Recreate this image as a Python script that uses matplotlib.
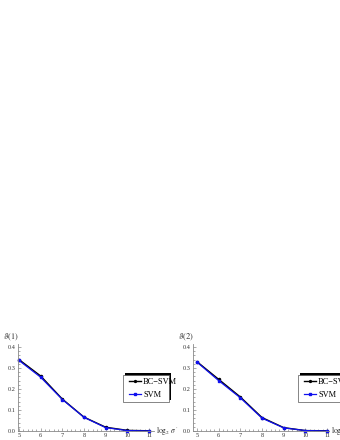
import numpy as np
import matplotlib.pyplot as plt
from matplotlib.patches import Rectangle

# data
log2_sigma = [5, 6, 7, 8, 9, 10, 11]

bc_svm_1 = [0.340, 0.262, 0.152, 0.066, 0.018, 0.003, 0.001]
svm_1 = [0.336, 0.256, 0.150, 0.065, 0.016, 0.002, 0.000]

bc_svm_2 = [0.330, 0.246, 0.162, 0.064, 0.016, 0.002, 0.001]
svm_2 = [0.328, 0.240, 0.158, 0.061, 0.015, 0.002, 0.000]

panels = [("$\\vartheta(1)$", bc_svm_1, svm_1), ("$\\vartheta(2)$", bc_svm_2, svm_2)]

plt.rcParams['font.family'] = ['Liberation Serif', 'DejaVu Serif']
plt.rcParams['mathtext.fontset'] = 'stix'

W, H = 340.0, 440.0
fig = plt.figure(figsize=(3.4, 4.4), dpi=100)

# pixel geometry of each panel: (axis left px, x=5 px)
geoms = [(18, 19), (193, 197)]
px_per_unit = 130 / 6.0
y0_px, ytop_px = 431, 344
px_per_y = 84 / 0.4

for (ylab, bc, sv), (left_px, x5_px) in zip(panels, geoms):
    xmin = 5 - (x5_px - left_px) / px_per_unit
    right_px = left_px + 136
    xmax = 5 + (right_px - x5_px) / px_per_unit
    ymax = (y0_px - ytop_px) / px_per_y
    ax = fig.add_axes([left_px / W, (H - y0_px) / H, (right_px - left_px) / W, (y0_px - ytop_px) / H])
    ax.set_xlim(xmin, xmax)
    ax.set_ylim(0, ymax)
    for s in ['top', 'right']:
        ax.spines[s].set_visible(False)
    for s in ['left', 'bottom']:
        ax.spines[s].set_color('#888888')
        ax.spines[s].set_linewidth(0.6)
    ax.set_xticks(log2_sigma)
    ax.set_xticks(np.arange(5, 11.01, 0.2), minor=True)
    ax.set_yticks([0.0, 0.1, 0.2, 0.3, 0.4])
    ax.set_yticklabels(['0.0', '0.1', '0.2', '0.3', '0.4'])
    ax.set_yticks(np.arange(0, 0.41, 0.02), minor=True)
    ax.tick_params(which='both', direction='in', colors='#888888', labelcolor='#333333',
                   labelsize=4.5, pad=1.5, width=0.5)
    ax.tick_params(which='major', length=2.5)
    ax.tick_params(which='minor', length=1.2)
    ax.plot(log2_sigma, bc, color='black', marker='o', ms=1.5, lw=1.0, label='BC\u2212SVM', clip_on=False)
    ax.plot(log2_sigma, sv, color='#1010ee', marker='s', ms=1.6, lw=0.9, label='SVM', clip_on=False)
    ax.text(left_px / W - 0.045, (H - 337) / H, ylab, transform=fig.transFigure,
            fontsize=6, color='#333333', va='center', ha='left')
    ax.text((right_px + 2) / W, (H - 431) / H, '$\\log_2\\, \\sigma\'$', transform=fig.transFigure,
            fontsize=5.5, color='#333333', va='center', ha='left')

    # legend box with the heavy "shadow" edge
    lx = (left_px + 105) / W
    ly = (H - 402) / H
    lw_, lh_ = 46 / W, 27 / H
    fig.patches.append(Rectangle((lx + 2 / W, ly + 2 / H), lw_, lh_, transform=fig.transFigure,
                                 facecolor='black', edgecolor='none', zorder=5))
    fig.patches.append(Rectangle((lx, ly), lw_, lh_, transform=fig.transFigure,
                                 facecolor='white', edgecolor='#555555', lw=0.5, zorder=6))
    leg = fig.legend(*ax.get_legend_handles_labels(), loc='center left',
                     bbox_to_anchor=(lx, ly + lh_ / 2), bbox_transform=fig.transFigure,
                     frameon=False, fontsize=6, handlelength=1.4, handletextpad=0.3,
                     labelspacing=0.7, borderpad=0.2, numpoints=1, markerscale=0.9)
    leg.set_zorder(7)

fig.savefig('out.png', dpi=100, facecolor='white')
